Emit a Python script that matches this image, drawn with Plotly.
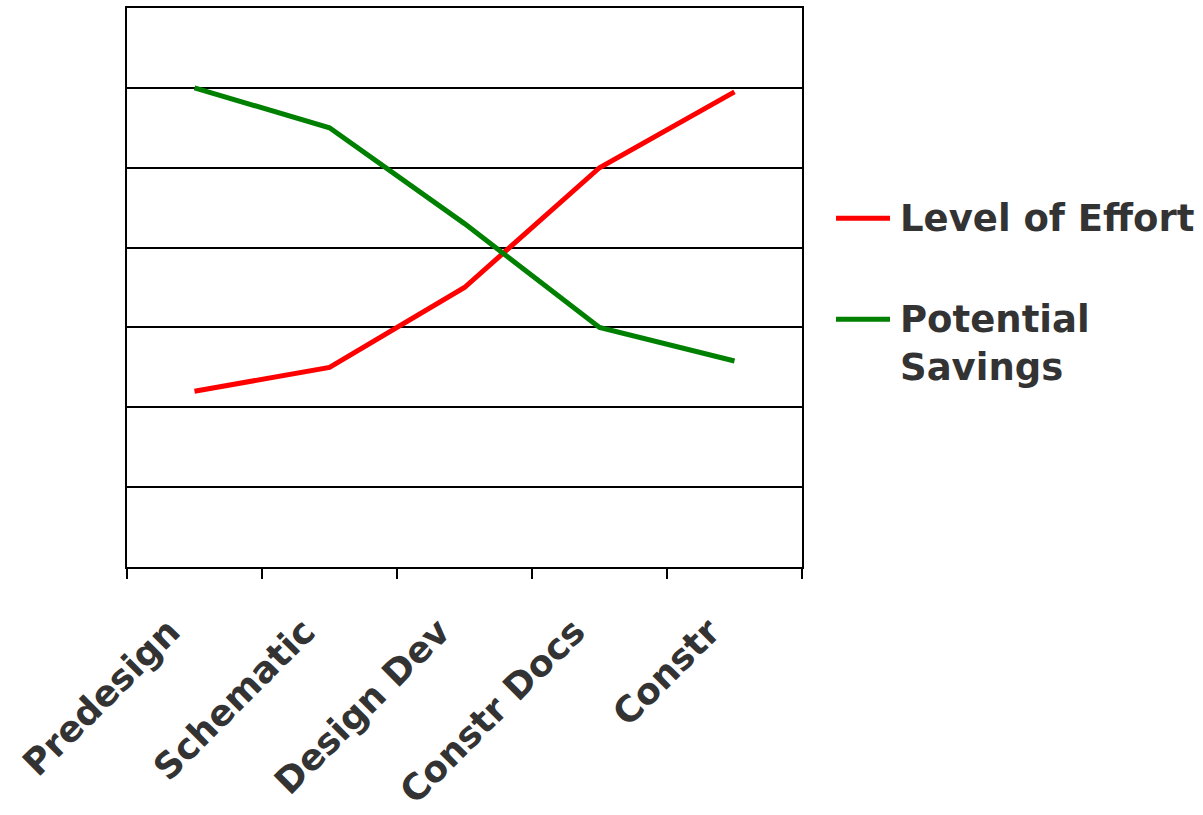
import plotly.graph_objects as go

phases = ["Predesign", "Schematic", "Design Dev", "Constr Docs", "Constr"]
level_of_effort = [2.2, 2.5, 3.5, 5.0, 5.95]
potential_savings = [6.0, 5.5, 4.3, 3.0, 2.58]

series_names = ["Level of Effort", "Potential<br>Savings"]
series_colors = ["#ff0000", "#008000"]

FONT = "DejaVu Sans"
TEXT = "#333333"
SIZE = 37
TICK_SIZE = 36

fig = go.Figure()
for name, vals, col in zip(series_names, [level_of_effort, potential_savings], series_colors):
    fig.add_trace(go.Scatter(
        x=phases, y=vals, mode="lines", name=name.replace("<br>", " "),
        line=dict(color=col, width=5), showlegend=False,
    ))

# legend drawn at the right of the plot: a coloured key line plus its label
key_y = [0.624, 0.443]
for name, col, ky in zip(series_names, series_colors, key_y):
    fig.add_shape(type="line", xref="paper", yref="paper",
                  x0=1.0504, x1=1.1304, y0=ky, y1=ky,
                  line=dict(color=col, width=5))
    fig.add_annotation(
        xref="paper", yref="paper", x=1.142, y=ky, xanchor="left",
        yanchor="top" if "<br>" in name else "middle",
        yshift=23 if "<br>" in name else 0,
        text=name, showarrow=False, align="left",
        font=dict(family=FONT, size=SIZE, color=TEXT, weight="bold"),
    )

fig.update_layout(
    width=1203, height=815,
    margin=dict(l=127, r=401, t=8, b=248, autoexpand=False),
    paper_bgcolor="white", plot_bgcolor="white",
    font=dict(family=FONT, color=TEXT, size=SIZE, weight="bold"),
    showlegend=False,
)
fig.update_xaxes(
    type="category", range=[-0.5, 4.5], automargin=False,
    showline=True, linecolor="black", linewidth=2, mirror=True,
    ticks="outside", tickson="boundaries", ticklen=10, tickwidth=1.5, tickcolor="black",
    tickangle=-45, showgrid=False, ticklabelstandoff=27, ticklabelshift=-25,
    tickfont=dict(family=FONT, size=TICK_SIZE, color=TEXT, weight="bold"),
)
fig.update_yaxes(
    range=[0, 7], dtick=1, showticklabels=False, automargin=False,
    showline=True, linecolor="black", linewidth=2, mirror=True,
    showgrid=True, gridcolor="black", gridwidth=1.5, zeroline=False, ticks="",
)

fig.write_html("out.html")
